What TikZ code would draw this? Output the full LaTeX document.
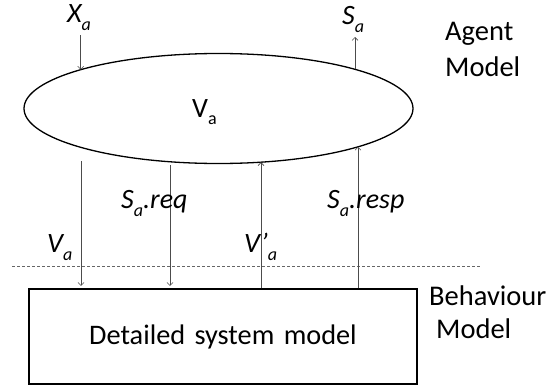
\documentclass[tikz,border=0pt]{standalone}
\usepackage{fontspec}
\setmainfont{Carlito}
\usetikzlibrary{arrows.meta,shapes.geometric,calc}
\newcommand\lowsub[1]{\raisebox{-8pt}{\fontsize{18}{18}\selectfont #1}}
\begin{document}
\begin{tikzpicture}[x=1pt,y=-1pt,
  sig/.style={draw=black!70, line width=0.6pt, -{Straight Barb[length=3pt,width=6pt]}},
  lbl/.style={anchor=base west, inner sep=0pt, font=\fontsize{28}{28}\selectfont\itshape},
  side/.style={anchor=base west, inner sep=0pt, font=\fontsize{28.5}{28.5}\selectfont}]
\useasboundingbox (0,0) rectangle (550,388);
% agent ellipse
\node (ag) [ellipse, draw, line width=1.3pt, minimum width=389pt, minimum height=110pt, inner sep=0pt] at (218.5,108.5) {};
\node (va) [anchor=base west, inner sep=0pt, font=\fontsize{28}{28}\selectfont] at (192,117) {V\lowsub{a}};
% behaviour box
\node (bx) [rectangle, draw, line width=1.3pt, minimum width=388pt, minimum height=95pt, inner sep=0pt, font=\fontsize{28.3}{28.3}\selectfont, xshift=-3pt, text width=388pt, align=center] at (226,336.5) {Detailed system model};
% dashed separator
\coordinate (dl) at (12,266);
\coordinate (dr) at (481,266);
\draw[black!60, line width=0.7pt, dash pattern=on 3pt off 2pt] (dl) -- (dr);
% points on ellipse
\coordinate (xin) at ($(ag.center)+(-137.8,-38.8)$);
\coordinate (sout) at ($(ag.center)+(136.5,-39.2)$);
\coordinate (vpin) at ($(ag.center)+(42.5,53.7)$);
\coordinate (rin) at ($(ag.center)+(139.5,38.3)$);
% free ends
\coordinate (xtop) at (80.7,35);
\coordinate (stop) at (355,37);
\coordinate (vst) at (81,161);
\coordinate (qst) at (170,165);
% arrows
\draw[sig] (xtop) -- (xin);
\draw[sig] (sout) -- (stop);
\draw[sig, shorten >=2.5pt] (vst) -- (vst |- bx.north);
\draw[sig, shorten >=2.5pt] (qst) -- (qst |- bx.north);
\draw[sig] (vpin |- bx.north) -- (vpin);
\draw[sig] (rin |- bx.north) -- (rin);
% labels
\node (lx) [lbl] at (67,23) {X\lowsub{a}};
\node (ls) [lbl] at (342,24) {S\lowsub{a}};
\node (lq) [lbl] at (121,208) {S\lowsub{a}.req};
\node (lr) [lbl] at (327,208) {S\lowsub{a}.resp};
\node (lv) [lbl] at (47,252) {V\lowsub{a}};
\node (lvp) [lbl] at (244,252) {V’\lowsub{a}};
\node (am1) [side] at (445,40) {Agent};
\node (am2) [side] at (445,77) {Model};
\node (bm1) [side] at (429,305) {Behaviour};
\node (bm2) [side] at (436,338) {Model};
\end{tikzpicture}
\end{document}
